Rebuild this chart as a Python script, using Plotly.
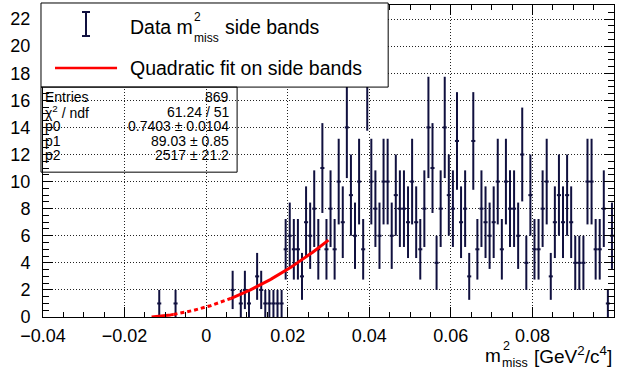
import numpy as np
import plotly.graph_objects as go

# ---------------- data ----------------
bin_lo = -0.040
bin_width = 0.001
# counts per bin, bins from -0.040 to 0.100 (140 bins)
counts = (
    [0] * 28 +                       # -0.040 .. -0.013
    [1, 0, 0, 0, 1] +                # -0.012 .. -0.008
    [0] * 13 +                       # -0.007 .. 0.005
    [2, 0, 1, 2, 1, 0, 3, 2, 1, 1, 1, 1, 1] +          # 0.006 .. 0.018
    [5, 6, 5, 5, 3, 7, 6, 8, 5, 11, 5, 8, 5, 10, 7, 14, 9, 6, 10, 5, 18] +   # 0.019 .. 0.039
    [10, 8, 6, 10, 10, 6, 9, 8, 8, 7, 10, 7, 5, 8, 14, 11, 4, 8, 14, 9, 8] + # 0.040 .. 0.060
    [13, 7, 8, 3, 13, 5, 8, 7, 6, 7, 10, 5, 10, 8, 8, 6, 12, 4, 9, 5] +      # 0.061 .. 0.080
    [5, 8, 10, 3, 7, 9, 7, 9, 7, 4, 4, 4, 10, 10, 5, 5, 8, 1, 6]             # 0.081 .. 0.099
)

# fit parameters (quadratic p0 + p1 x + p2 x^2)
p0, p1, p2 = 0.7403, 89.03, 2517.0
fit_solid_ranges = [(-0.01337, -0.008), (0.006, 0.030)]
fit_dotted_range = (-0.008, 0.006)

stats_labels = ["Entries", "χ<sup>2</sup> / ndf", "p0", "p1", "p2"]
stats_values = ["869", "61.24 / 51", "0.7403 ± 0.0104", "89.03 ± 0.85", "2517 ± 21.2"]

x_tickvals = [-0.04, -0.02, 0, 0.02, 0.04, 0.06, 0.08, 0.1]
x_ticktext = ["\u22120.04", "\u22120.02", "0", "0.02", "0.04", "0.06", "0.08", "0.1"]
y_tickvals = [0, 2, 4, 6, 8, 10, 12, 14, 16, 18, 20, 22]

# ---------------- layout geometry ----------------
W, H = 625, 374
L, R, T, B = 43, 11.3, 5, 57.3
PW, PH = W - L - R, H - T - B
NAVY = "#10103f"
FONT = "Liberation Sans, Arial, sans-serif"


def pxx(px):
    return (px - L) / PW


def pxy(py):
    return (H - B - py) / PH


# ---------------- traces ----------------
counts_arr = np.array(counts, dtype=float)
centers = bin_lo + (np.arange(len(counts)) + 0.5) * bin_width
mask = counts_arr > 0
xs = centers[mask]
ys = counts_arr[mask]
errs = np.sqrt(ys)

fig = go.Figure()
fig.add_trace(go.Scatter(
    x=xs, y=ys, mode="markers",
    marker=dict(size=1, color=NAVY, opacity=0),
    error_y=dict(type="data", array=errs, visible=True, color=NAVY, thickness=2, width=0),
    error_x=dict(type="data", array=np.full(len(xs), bin_width / 2), visible=True,
                 color=NAVY, thickness=2, width=0),
    showlegend=False, hoverinfo="skip",
))


def fit_curve(a, b, n=80):
    xx = np.linspace(a, b, n)
    return xx, p0 + p1 * xx + p2 * xx ** 2


for (a, b) in fit_solid_ranges:
    fx, fy = fit_curve(a, b)
    fig.add_trace(go.Scatter(x=fx, y=fy, mode="lines",
                             line=dict(color="#ff0000", width=3),
                             showlegend=False, hoverinfo="skip"))
fx, fy = fit_curve(*fit_dotted_range)
fig.add_trace(go.Scatter(x=fx, y=fy, mode="lines",
                         line=dict(color="#ff0000", width=3, dash="4px,3px"),
                         showlegend=False, hoverinfo="skip"))

# ---------------- shapes (legend + stats box) ----------------
shapes = []
shapes.append(dict(type="rect", xref="paper", yref="paper",
                   x0=pxx(41), x1=pxx(388), y0=pxy(87), y1=pxy(3),
                   fillcolor="white", line=dict(color="black", width=1), layer="above"))
lx = 86
shapes.append(dict(type="line", xref="paper", yref="paper", x0=pxx(lx), x1=pxx(lx),
                   y0=pxy(36), y1=pxy(12), line=dict(color=NAVY, width=2), layer="above"))
for yy in (12, 36):
    shapes.append(dict(type="line", xref="paper", yref="paper", x0=pxx(lx - 4), x1=pxx(lx + 4),
                       y0=pxy(yy), y1=pxy(yy), line=dict(color=NAVY, width=2), layer="above"))
shapes.append(dict(type="line", xref="paper", yref="paper", x0=pxx(55), x1=pxx(117),
                   y0=pxy(68), y1=pxy(68), line=dict(color="#ff0000", width=2.5), layer="above"))
shapes.append(dict(type="rect", xref="paper", yref="paper",
                   x0=pxx(41), x1=pxx(237), y0=pxy(172), y1=pxy(87),
                   fillcolor="rgba(0,0,0,0)", line=dict(color="black", width=1), layer="above"))

# ---------------- annotations ----------------
ann = []


def text(px, py, s, size, xanchor="left", yanchor="middle"):
    ann.append(dict(x=pxx(px), y=pxy(py), xref="paper", yref="paper", text=s,
                    showarrow=False, xanchor=xanchor, yanchor=yanchor, borderpad=0,
                    font=dict(family=FONT, size=size, color="black")))


LS = 19.5
text(129, 27, "Data m", LS)
text(193, 17, "2", 12)
text(193, 38, "miss", 12)
text(224, 27, "side bands", LS)
text(129, 68, "Quadratic fit on side bands", LS)

SS = 14
row_y = [97, 111.5, 126, 140.5, 155]
for lab, val, yy in zip(stats_labels, stats_values, row_y):
    text(44, yy, lab, SS)
    text(230, yy, val, SS, xanchor="right")

TS = 19
text(613, 355, "[GeV<sup>2</sup>/c<sup>4</sup>]", TS, xanchor="right")
text(502, 346, "2", 12.5)
text(501, 363, "miss", 12.5)
text(502, 355, "m", TS, xanchor="right")

fig.update_layout(
    width=W, height=H,
    margin=dict(l=L, r=R, t=T, b=B, pad=0),
    paper_bgcolor="white", plot_bgcolor="white",
    font=dict(family=FONT, size=18, color="black"),
    shapes=shapes, annotations=ann, showlegend=False,
    xaxis=dict(range=[-0.04, 0.1], tickvals=x_tickvals, ticktext=x_ticktext,
               ticks="inside", ticklen=10, tickcolor="black", tickwidth=1,
               minor=dict(ticks="inside", ticklen=5, dtick=0.005, tick0=0, tickcolor="black",
                          showgrid=False),
               showline=True, linecolor="black", linewidth=1, mirror="allticks",
               showgrid=True, gridcolor="#222", gridwidth=1, griddash="1px,2px",
               zeroline=False, ticklabelstandoff=2, automargin=False,
               tickfont=dict(family=FONT, size=18, color="black")),
    yaxis=dict(range=[0, 23.04], tickvals=y_tickvals,
               ticks="inside", ticklen=10, tickcolor="black", tickwidth=1,
               minor=dict(ticks="inside", ticklen=6, dtick=0.5, tick0=0, tickcolor="black",
                          showgrid=False),
               showline=True, linecolor="black", linewidth=1, mirror="allticks",
               showgrid=True, gridcolor="#222", gridwidth=1, griddash="1px,2px",
               zeroline=False, ticklabelstandoff=8, automargin=False,
               tickfont=dict(family=FONT, size=18, color="black")),
)

fig.write_html("out.html", config={"displayModeBar": False},
               post_script="document.body.style.margin='0';")
